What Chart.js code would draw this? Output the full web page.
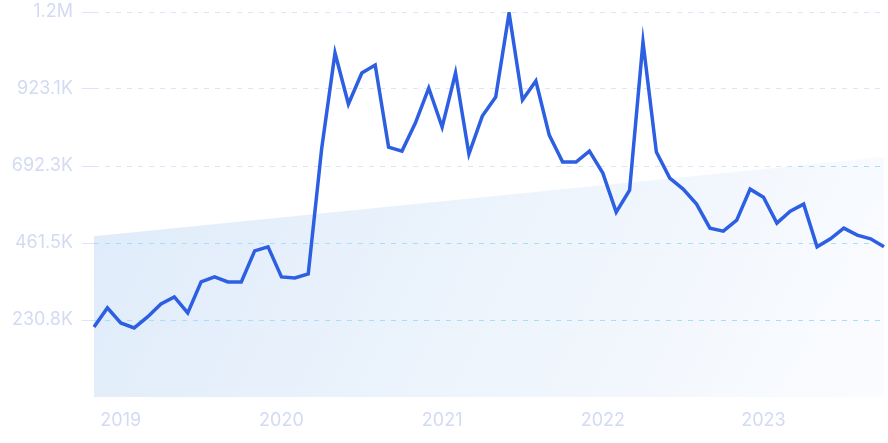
<!DOCTYPE html>
<html>
<head>
<meta charset="utf-8">
<script src="https://cdn.jsdelivr.net/npm/chart.js@4.4.1/dist/chart.umd.min.js"></script>
<style>
html, body { margin: 0; padding: 0; background: #fff; }
#wrap { width: 888px; height: 443px; }
</style>
</head>
<body>
<div id="wrap"><canvas id="chart"></canvas></div>
<script>
// monthly categories, Nov 2018 .. Oct 2023
var months = [
	'2018-11', '2018-12',
	'2019-01', '2019-02', '2019-03', '2019-04', '2019-05', '2019-06', '2019-07', '2019-08', '2019-09', '2019-10', '2019-11', '2019-12',
	'2020-01', '2020-02', '2020-03', '2020-04', '2020-05', '2020-06', '2020-07', '2020-08', '2020-09', '2020-10', '2020-11', '2020-12',
	'2021-01', '2021-02', '2021-03', '2021-04', '2021-05', '2021-06', '2021-07', '2021-08', '2021-09', '2021-10', '2021-11', '2021-12',
	'2022-01', '2022-02', '2022-03', '2022-04', '2022-05', '2022-06', '2022-07', '2022-08', '2022-09', '2022-10', '2022-11', '2022-12',
	'2023-01', '2023-02', '2023-03', '2023-04', '2023-05', '2023-06', '2023-07', '2023-08', '2023-09', '2023-10'
];

// search volume
var searches = [
	210000, 267000,
	222000, 207000, 240000, 279000, 300000, 252000, 345000, 360000, 345000, 345000, 438000, 450000,
	360000, 357000, 369000, 743000, 1031000, 878000, 971000, 995000, 749000, 737000, 821000, 926000,
	809000, 971000, 728000, 842000, 899000, 1151000, 890000, 947000, 785000, 704000, 704000, 737000,
	671000, 554000, 620000, 1064000, 734000, 656000, 623000, 578000, 506000, 497000, 530000, 623000,
	599000, 521000, 557000, 578000, 450000, 474000, 506000, 485000, 474000, 450000
];

// trend line end points (first and last month)
var trendMonths = ['2018-11', '2023-10'];
var trendValues = [482000, 719000];

var yMax = 1153846;
var yTickLabels = ['', '230.8K', '461.5K', '692.3K', '923.1K', '1.2M'];

var labelColor = '#d3dbf3';
var gridColor = '#dde4f7';
var gridInFillColor = '#a9def9';
var lineColor = '#2d5fe3';

/**
 * Grid lines that sit inside the trend fill look cyan, redraw them on top of the fill
 */
var fillGridPlugin = {
	id: 'fillGrid',
	afterDatasetDraw: function(chart, args) {
		if (args.index !== 1) return;
		var pts = args.meta.data;
		var area = chart.chartArea;
		var yScale = chart.scales.y;
		var ctx = chart.ctx;
		var last = pts[pts.length - 1];
		ctx.save();
		ctx.beginPath();
		ctx.moveTo(pts[0].x, area.bottom);
		ctx.lineTo(pts[0].x, pts[0].y);
		ctx.lineTo(last.x, last.y);
		ctx.lineTo(last.x, area.bottom);
		ctx.closePath();
		ctx.clip();
		ctx.strokeStyle = gridInFillColor;
		ctx.lineWidth = 1;
		ctx.setLineDash([5, 6]);
		yScale.ticks.forEach(function(t) {
			if (!t.value) return;
			var py = Math.round(yScale.getPixelForValue(t.value)) + 0.5;
			ctx.beginPath();
			ctx.moveTo(area.left, py);
			ctx.lineTo(area.right, py);
			ctx.stroke();
		});
		ctx.restore();
	}
};

function fillGradient(context) {
	var a = context.chart.chartArea;
	if (!a) return null;
	var g = context.chart.ctx.createLinearGradient(a.left, a.top, a.right, a.bottom);
	g.addColorStop(0, '#ddeafa');
	g.addColorStop(0.55, '#edf4fc');
	g.addColorStop(1, '#fbfcff');
	return g;
}

var trendData = [];
for (var i = 0; i < trendMonths.length; i++) {
	trendData.push({ x: trendMonths[i], y: trendValues[i] });
}

new Chart(document.getElementById('chart').getContext('2d'), {
	type: 'line',
	data: {
		labels: months,
		datasets: [{
			data: searches,
			borderColor: lineColor,
			borderWidth: 3.5,
			pointRadius: 0,
			tension: 0,
			fill: false
		}, {
			data: trendData,
			borderWidth: 0,
			borderColor: 'rgba(0,0,0,0)',
			backgroundColor: fillGradient,
			pointRadius: 0,
			tension: 0,
			fill: 'origin'
		}]
	},
	options: {
		responsive: true,
		maintainAspectRatio: false,
		animation: false,
		layout: { padding: { top: 12, right: 4, bottom: 0, left: 0 } },
		plugins: { legend: { display: false }, tooltip: { enabled: false } },
		scales: {
			x: {
				offset: false,
				grid: { display: false, drawTicks: false },
				border: { display: false },
				afterFit: function(scale) { scale.height = 46; },
				ticks: {
					autoSkip: false,
					maxRotation: 0,
					padding: 13,
					color: labelColor,
					font: { family: 'Inter', size: 18 },
					callback: function(v, idx) {
						var m = months[idx];
						return m.slice(5) === '01' ? m.slice(0, 4) : null;
					}
				}
			},
			y: {
				min: 0,
				max: yMax,
				// fixed axis width, and no extra room above the top label
				afterFit: function(scale) {
					scale.width = 94;
					scale.paddingTop = 0;
					scale.paddingBottom = 0;
				},
				border: { display: false, dash: [5, 6] },
				grid: {
					color: function(ctx) { return ctx.tick && ctx.tick.value === 0 ? 'rgba(0,0,0,0)' : gridColor; },
					lineWidth: 1,
					tickLength: 12
				},
				ticks: {
					count: 6,
					padding: 9,
					color: labelColor,
					font: { family: 'Inter', size: 18 },
					callback: function(v, idx) { return yTickLabels[idx]; }
				}
			}
		}
	},
	plugins: [fillGridPlugin]
});
</script>
</body>
</html>
